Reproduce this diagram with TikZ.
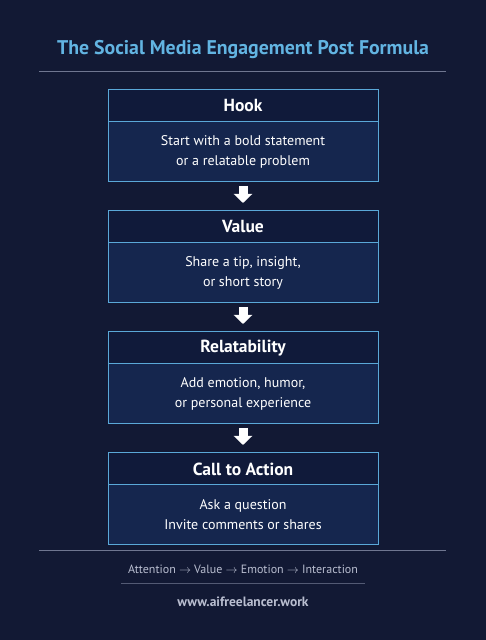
\documentclass[tikz,border=0pt]{standalone}
\usepackage{fontspec}
\setmainfont{PT Sans}
\usetikzlibrary{positioning, arrows.meta}
\definecolor{bgnavy}{HTML}{121934}
\definecolor{titleblue}{HTML}{62B4E2}
\definecolor{frameblue}{HTML}{5AA8D8}
\definecolor{headfill}{HTML}{101A3A}
\definecolor{bodyfill}{HTML}{15264E}
\definecolor{softgray}{HTML}{B9BED0}
\definecolor{rulegray}{HTML}{6F7690}
\tikzstyle{stephead} = [
rectangle, draw=frameblue, line width=1pt, fill=headfill, outer sep=0pt,
minimum width=270pt, minimum height=32pt, text centered, text=white,
font=\bfseries\fontsize{17.5}{20}\selectfont
]
\tikzstyle{stepbody} = [
rectangle, draw=frameblue, line width=1pt, fill=bodyfill, outer sep=0pt,
minimum width=270pt, minimum height=60pt, align=center, text=white,
font=\fontsize{14}{20}\selectfont
]
\tikzstyle{blockarrow} = [white, line width=9pt, -{Triangle[width=18pt,length=9pt]}]

\begin{document}
\begin{tikzpicture}[x=1pt, y=1pt, node distance=29pt]
			% Hintergrund
			\fill[bgnavy] (0,0) rectangle (486,640);
			\useasboundingbox (0,0) rectangle (486,640);

			% Titel
			\node (Title) [text=titleblue, font=\bfseries\fontsize{19.8}{22}\selectfont] at (243,590) {The Social Media Engagement Post Formula};
			\draw [rulegray, line width=1pt] (39,568) -- (446,568);

			% Schritte
			\node (Hook) [stephead] at (243,534) {Hook};
			\node (Hook_txt) [stepbody, below=0pt of Hook] {Start with a bold statement\\or a relatable problem};
			\node (Value) [stephead, below=of Hook_txt] {Value};
			\node (Value_txt) [stepbody, below=0pt of Value] {Share a tip, insight,\\or short story};
			\node (Relate) [stephead, below=of Value_txt] {Relatability};
			\node (Relate_txt) [stepbody, below=0pt of Relate] {Add emotion, humor,\\or personal experience};
			\node (CTA) [stephead, below=of Relate_txt] {Call to Action};
			\node (CTA_txt) [stepbody, below=0pt of CTA] {Ask a question\\Invite comments or shares};

			% Pfeile
			\draw [blockarrow] ([yshift=-4pt]Hook_txt.south) -- ([yshift=8pt]Value.north);
			\draw [blockarrow] ([yshift=-4pt]Value_txt.south) -- ([yshift=8pt]Relate.north);
			\draw [blockarrow] ([yshift=-4pt]Relate_txt.south) -- ([yshift=8pt]CTA.north);

			% Fusszeile
			\draw [rulegray, line width=1pt] (39,89) -- (446,89);
			\node (Flow) [text=softgray, font=\fontsize{12}{14}\selectfont] at (243,71) {Attention $\to$ Value $\to$ Emotion $\to$ Interaction};
			\draw [rulegray!70!bgnavy, line width=0.6pt] (121,57) -- (365,57);
			\node (Web) [text=softgray, font=\bfseries\fontsize{13.5}{16}\selectfont] at (243,38) {www.aifreelancer.work};

		\end{tikzpicture}
\end{document}
